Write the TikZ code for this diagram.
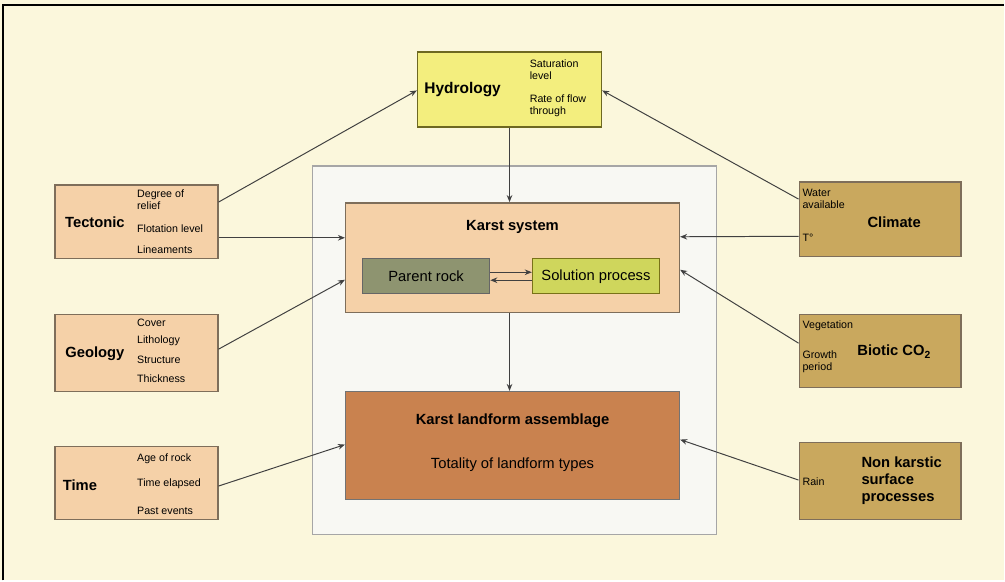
\documentclass[tikz,border=0pt]{standalone}
\usepackage{fontspec}
\setmainfont{Liberation Sans}
\usetikzlibrary{arrows.meta,
	calc}

\definecolor{paper}{HTML}{FBF7DC}
\definecolor{hydrofill}{HTML}{F3EE7E}
\definecolor{framefill}{HTML}{F8F8F3}
\definecolor{peach}{HTML}{F5D1A8}
\definecolor{tan}{HTML}{C9A85E}
\definecolor{rockfill}{HTML}{8E9470}
\definecolor{solfill}{HTML}{CFD65C}
\definecolor{landfill}{HTML}{C9824F}
\definecolor{edge}{HTML}{7E6E5A}

\begin{document}
\begin{tikzpicture}[x=0.025cm,y=-0.025cm]
      \tikzstyle{box}=[rectangle,draw=edge,line width=1pt,inner sep=0pt]
      \tikzstyle{title}=[font=\fontsize{10.5}{12}\selectfont\bfseries,inner sep=0pt]
      \tikzstyle{small}=[font=\fontsize{7.6}{8.4}\selectfont,align=left,anchor=west,inner sep=0pt]
      \tikzstyle{link}=[draw=black!75,line width=0.7pt,-{Stealth[length=5pt,width=4pt]}]
      % background and frame lines
      \fill[paper] (0,0) rectangle (1005,581);
      \draw[line width=1.3pt] (3,581) -- (3,5) -- (1005,5);
      % boxes
      \node[box,fill=framefill,draw=black!35,minimum width=101mm,minimum height=92.25mm] (frame) at (515,350.5) {};
      \node[box,fill=hydrofill,draw=olive!70!black,minimum width=46mm,minimum height=18.75mm] (hydro) at (510,89.5) {};
      \node[box,fill=peach,minimum width=83.5mm,minimum height=27.5mm] (k_sys) at (513,258) {};
      \node[box,fill=rockfill,draw=black!60,minimum width=31.75mm,minimum height=8.75mm,font=\fontsize{10.5}{12}\selectfont] (p_rock) at (426.5,276.5) {Parent rock};
      \node[box,fill=solfill,draw=olive!80!black,minimum width=31.75mm,minimum height=8.75mm,font=\fontsize{10.5}{12}\selectfont] (s_proc) at (596.5,276.5) {Solution process};
      \node[box,fill=landfill,draw=black!55,minimum width=83.5mm,minimum height=27mm] (k_land) at (513,446) {};
      \node[box,fill=peach,minimum width=40.75mm,minimum height=18.5mm] (tect) at (136.5,222) {};
      \node[box,fill=peach,minimum width=40.75mm,minimum height=19.25mm] (geol) at (136.5,353.5) {};
      \node[box,fill=peach,minimum width=40.75mm,minimum height=18.25mm] (time) at (136.5,483.5) {};
      \node[box,fill=tan,minimum width=40.5mm,minimum height=18.75mm] (clim) at (881,219.5) {};
      \node[box,fill=tan,minimum width=40.5mm,minimum height=18.25mm] (biot) at (881,351.5) {};
      \node[box,fill=tan,minimum width=40.5mm,minimum height=19.25mm] (nonk) at (881,481.5) {};
      % labels
      \node[title,font=\fontsize{11}{12}\selectfont\bfseries] (hydro_t) at (463,90) {Hydrology};
      \node[small] (hydro_a) at (530,70) {Saturation\\level};
      \node[small] (hydro_b) at (530,106) {Rate of flow\\through};
      \node[title] (k_sys_t) at (513,227) {Karst system};
      \node[title] (k_land_t) at (513,421) {Karst landform assemblage};
      \node[font=\fontsize{10.5}{12}\selectfont,inner sep=0pt] (k_land_s) at (513,465) {Totality of landform types};
      \node[title] (tect_t) at (95,222) {Tectonic};
      \node[small] (tect_a) at (137,200) {Degree of\\relief};
      \node[small] (tect_b) at (137,229) {Flotation level};
      \node[small] (tect_c) at (137,250) {Lineaments};
      \node[title] (geol_t) at (95,354) {Geology};
      \node[small] (geol_a) at (137,323) {Cover};
      \node[small] (geol_b) at (137,341) {Lithology};
      \node[small] (geol_c) at (137,360) {Structure};
      \node[small] (geol_d) at (137,379) {Thickness};
      \node[title] (time_t) at (80,486) {Time};
      \node[small] (time_a) at (137,459) {Age of rock};
      \node[small] (time_b) at (137,484) {Time elapsed};
      \node[small] (time_c) at (137,511) {Past events};
      \node[title] (clim_t) at (895,222) {Climate};
      \node[small] (clim_a) at (803,199) {Water\\available};
      \node[small] (clim_b) at (803,238) {T°};
      \node[title] (biot_t) at (895,352) {Biotic CO\textsubscript{2}};
      \node[small] (biot_a) at (803,326) {Vegetation};
      \node[small] (biot_b) at (803,362) {Growth\\period};
      \node[title,align=left,anchor=west] (nonk_t) at (862,481) {Non karstic\\surface\\processes};
      \node[small] (nonk_a) at (803,482) {Rain};
      % connectors
      \draw[link] ($(tect.north east)+(0,18)$) -- ($(hydro.west)+(0,1)$);
      \draw[link] ($(tect.east)+(0,16)$) -- ($(k_sys.west)+(0,-20)$);
      \draw[link] ($(geol.east)+(0,-4)$) -- ($(k_sys.west)+(0,22)$);
      \draw[link] ($(time.east)+(0,3)$) -- ($(k_land.west)+(0,-1)$);
      \draw[link] ($(clim.north west)+(0,18)$) -- ($(hydro.east)+(0,1)$);
      \draw[link] ($(clim.west)+(0,17)$) -- ($(k_sys.east)+(0,-21)$);
      \draw[link] ($(biot.west)+(0,-8)$) -- ($(k_sys.east)+(0,12)$);
      \draw[link] ($(nonk.west)+(0,-1)$) -- ($(k_land.east)+(0,-6)$);
      \draw[link] (hydro.south) -- (hydro.south |- k_sys.north);
      \draw[link] (hydro.south |- k_sys.south) -- (hydro.south |- k_land.north);
      \draw[link] ($(p_rock.east)+(0,-4)$) -- ($(s_proc.west)+(0,-4)$);
      \draw[link] ($(s_proc.west)+(0,4)$) -- ($(p_rock.east)+(0,4)$);
\end{tikzpicture}
\end{document}
